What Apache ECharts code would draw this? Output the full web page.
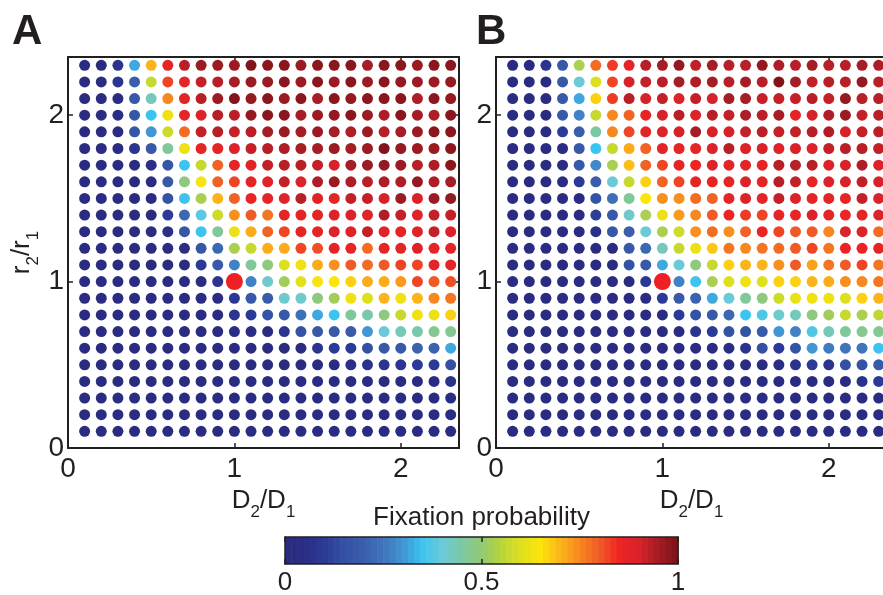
<!DOCTYPE html>
<html>
<head>
<meta charset="utf-8">
<script src="https://cdn.jsdelivr.net/npm/echarts@6/dist/echarts.min.js"></script>
<style>
html, body { margin: 0; padding: 0; background: #fff; }
#chart { width: 883px; height: 595px; }
</style>
</head>
<body>
<div id="chart"></div>
<script>
// grid positions (D2/D1 across, r2/r1 down the rows)
var dValues = [0.1, 0.2, 0.3, 0.4, 0.5, 0.6, 0.7, 0.8, 0.9, 1.0, 1.1, 1.2, 1.3, 1.4, 1.5, 1.6, 1.7, 1.8, 1.9, 2.0, 2.1, 2.2, 2.3];
var rValues = [2.3, 2.2, 2.1, 2.0, 1.9, 1.8, 1.7, 1.6, 1.5, 1.4, 1.3, 1.2, 1.1, 1.0, 0.9, 0.8, 0.7, 0.6, 0.5, 0.4, 0.3, 0.2, 0.1];
var neutralPoint = [1, 1];
var barTicks = [0, 0.5, 1];

// colour map of the fixation probability, 0 -> 1 in steps of 0.05
var probColors = ['#2a2a7e', '#2a2e85', '#2b3a96', '#3450a3', '#3a5eab', '#3f74bb', '#4196d3',
  '#3cc4f0', '#6ccad8', '#7cc8a4', '#92c974', '#b9d43a', '#dde01e', '#fde40a', '#fbb51a',
  '#f7871f', '#f05a26', '#ee2524', '#d8222a', '#a51d25', '#7a1218'];

// panel A, rows from r2/r1 = 2.3 (top) down to 0.1
var probA = [
  [0.02,0.02,0.08,0.32,0.70,0.87,0.93,0.96,0.96,0.96,0.99,0.98,0.98,0.96,0.98,0.98,0.98,0.95,0.98,0.98,0.96,0.98,0.98],
  [0.02,0.02,0.08,0.20,0.57,0.82,0.87,0.92,0.93,0.95,0.96,0.96,0.98,0.96,0.98,0.96,0.98,0.96,0.98,0.97,0.96,0.96,0.97],
  [0.02,0.02,0.02,0.18,0.43,0.75,0.87,0.93,0.96,0.99,0.97,0.98,0.96,0.98,0.95,0.98,0.97,0.98,0.98,0.98,0.94,0.98,0.97],
  [0.02,0.02,0.04,0.17,0.35,0.63,0.87,0.89,0.93,0.93,0.97,0.98,0.98,0.95,0.96,0.97,0.98,0.96,0.94,0.98,0.95,0.94,0.98],
  [0.02,0.02,0.02,0.17,0.30,0.58,0.78,0.92,0.93,0.92,0.93,0.95,0.96,0.95,0.96,0.95,0.94,0.96,0.93,0.95,0.96,0.98,0.98],
  [0.02,0.02,0.02,0.08,0.18,0.46,0.63,0.87,0.87,0.89,0.92,0.93,0.94,0.95,0.95,0.96,0.95,0.96,0.99,0.97,0.96,0.96,0.98],
  [0.02,0.02,0.02,0.02,0.05,0.17,0.35,0.57,0.79,0.87,0.88,0.92,0.93,0.93,0.92,0.90,0.95,0.96,0.97,0.96,0.93,0.94,0.98],
  [0.02,0.02,0.02,0.02,0.04,0.18,0.49,0.64,0.79,0.82,0.87,0.88,0.92,0.89,0.94,0.96,0.94,0.93,0.94,0.94,0.97,0.94,0.95],
  [0.02,0.02,0.02,0.02,0.02,0.16,0.35,0.53,0.70,0.79,0.86,0.87,0.88,0.93,0.88,0.87,0.92,0.92,0.90,0.96,0.90,0.96,0.97],
  [0.02,0.02,0.02,0.02,0.02,0.10,0.22,0.38,0.58,0.74,0.80,0.77,0.87,0.87,0.87,0.89,0.89,0.88,0.94,0.92,0.88,0.92,0.92],
  [0.02,0.02,0.02,0.02,0.02,0.06,0.17,0.35,0.46,0.62,0.71,0.79,0.82,0.87,0.87,0.89,0.88,0.92,0.88,0.87,0.88,0.92,0.89],
  [0.02,0.02,0.02,0.02,0.02,0.02,0.05,0.17,0.22,0.53,0.57,0.71,0.71,0.82,0.81,0.87,0.87,0.78,0.87,0.87,0.89,0.87,0.87],
  [0.02,0.02,0.02,0.02,0.02,0.02,0.02,0.10,0.18,0.27,0.46,0.49,0.60,0.63,0.71,0.74,0.80,0.78,0.80,0.82,0.82,0.87,0.87],
  [0.02,0.02,0.02,0.02,0.02,0.02,0.02,0.02,0.08,0.50,0.27,0.41,0.52,0.61,0.64,0.65,0.67,0.71,0.71,0.73,0.82,0.80,0.81],
  [0.02,0.02,0.02,0.02,0.02,0.02,0.02,0.02,0.02,0.09,0.18,0.19,0.41,0.41,0.49,0.52,0.63,0.60,0.70,0.63,0.70,0.75,0.77],
  [0.02,0.02,0.02,0.02,0.02,0.02,0.02,0.02,0.02,0.08,0.10,0.16,0.18,0.24,0.32,0.35,0.46,0.44,0.49,0.57,0.63,0.62,0.67],
  [0.02,0.02,0.02,0.02,0.02,0.02,0.02,0.02,0.02,0.04,0.04,0.03,0.08,0.16,0.18,0.18,0.19,0.30,0.40,0.43,0.44,0.47,0.47],
  [0.02,0.02,0.02,0.02,0.02,0.02,0.02,0.02,0.02,0.02,0.02,0.02,0.02,0.02,0.08,0.10,0.10,0.15,0.18,0.18,0.21,0.21,0.32],
  [0.02,0.02,0.02,0.02,0.02,0.02,0.02,0.02,0.02,0.02,0.02,0.02,0.02,0.02,0.02,0.02,0.06,0.07,0.08,0.08,0.10,0.10,0.15],
  [0.02,0.02,0.02,0.02,0.02,0.02,0.02,0.02,0.02,0.02,0.02,0.02,0.02,0.02,0.02,0.02,0.02,0.02,0.02,0.02,0.02,0.02,0.07],
  [0.02,0.02,0.02,0.02,0.02,0.02,0.02,0.02,0.02,0.02,0.02,0.02,0.02,0.02,0.02,0.02,0.02,0.02,0.02,0.02,0.02,0.02,0.02],
  [0.02,0.02,0.02,0.02,0.02,0.02,0.02,0.02,0.02,0.02,0.02,0.02,0.02,0.02,0.02,0.02,0.02,0.02,0.02,0.02,0.02,0.02,0.02],
  [0.02,0.02,0.02,0.02,0.02,0.02,0.02,0.02,0.02,0.02,0.02,0.02,0.02,0.02,0.02,0.02,0.02,0.02,0.02,0.02,0.02,0.02,0.02]
];

// panel B, same layout
var probB = [
  [0.02,0.02,0.08,0.18,0.53,0.78,0.83,0.87,0.93,0.95,0.97,0.92,0.95,0.93,0.93,0.97,0.94,0.93,0.95,0.93,0.93,0.95,0.94],
  [0.02,0.02,0.02,0.18,0.40,0.60,0.82,0.90,0.92,0.93,0.95,0.94,0.95,0.93,0.95,0.93,0.99,0.95,0.92,0.93,0.93,0.97,0.93],
  [0.02,0.02,0.02,0.18,0.32,0.67,0.83,0.93,0.90,0.92,0.89,0.92,0.90,0.95,0.95,0.92,0.92,0.92,0.93,0.92,0.97,0.93,0.93],
  [0.02,0.02,0.02,0.18,0.27,0.57,0.75,0.79,0.87,0.90,0.93,0.89,0.93,0.92,0.94,0.93,0.95,0.87,0.90,0.94,0.96,0.92,0.93],
  [0.02,0.02,0.02,0.10,0.20,0.45,0.75,0.82,0.87,0.89,0.90,0.95,0.90,0.90,0.92,0.93,0.92,0.92,0.93,0.94,0.90,0.92,0.93],
  [0.02,0.02,0.02,0.02,0.18,0.35,0.57,0.71,0.79,0.87,0.87,0.87,0.89,0.93,0.89,0.90,0.89,0.90,0.89,0.92,0.93,0.93,0.92],
  [0.02,0.02,0.02,0.02,0.18,0.28,0.53,0.69,0.79,0.82,0.87,0.85,0.89,0.87,0.87,0.87,0.93,0.93,0.93,0.89,0.90,0.94,0.89],
  [0.02,0.02,0.02,0.02,0.10,0.20,0.40,0.57,0.67,0.79,0.82,0.87,0.87,0.87,0.89,0.87,0.93,0.92,0.87,0.89,0.90,0.92,0.90],
  [0.02,0.02,0.02,0.02,0.02,0.16,0.24,0.46,0.65,0.74,0.74,0.78,0.79,0.87,0.89,0.87,0.92,0.89,0.87,0.87,0.87,0.92,0.89],
  [0.02,0.02,0.02,0.02,0.02,0.11,0.18,0.41,0.53,0.62,0.73,0.75,0.80,0.86,0.83,0.82,0.87,0.86,0.89,0.87,0.85,0.87,0.89],
  [0.02,0.02,0.02,0.02,0.02,0.06,0.17,0.20,0.40,0.53,0.58,0.74,0.78,0.74,0.79,0.86,0.82,0.80,0.80,0.75,0.89,0.89,0.78],
  [0.02,0.02,0.02,0.02,0.02,0.02,0.02,0.18,0.22,0.43,0.57,0.62,0.68,0.77,0.75,0.77,0.78,0.80,0.82,0.77,0.86,0.86,0.87],
  [0.02,0.02,0.02,0.02,0.02,0.02,0.02,0.16,0.18,0.32,0.40,0.49,0.57,0.67,0.70,0.70,0.74,0.80,0.72,0.77,0.80,0.82,0.77],
  [0.02,0.02,0.02,0.02,0.02,0.02,0.02,0.02,0.09,0.50,0.27,0.35,0.53,0.60,0.63,0.60,0.67,0.67,0.70,0.71,0.74,0.75,0.77],
  [0.02,0.02,0.02,0.02,0.02,0.02,0.02,0.02,0.02,0.10,0.18,0.21,0.32,0.40,0.46,0.49,0.58,0.62,0.63,0.63,0.60,0.67,0.70],
  [0.02,0.02,0.02,0.02,0.02,0.02,0.02,0.02,0.02,0.02,0.10,0.16,0.18,0.22,0.35,0.37,0.41,0.43,0.49,0.52,0.57,0.53,0.56],
  [0.02,0.02,0.02,0.02,0.02,0.02,0.02,0.02,0.02,0.02,0.02,0.08,0.10,0.16,0.16,0.18,0.30,0.27,0.37,0.43,0.46,0.47,0.47],
  [0.02,0.02,0.02,0.02,0.02,0.02,0.02,0.02,0.02,0.02,0.02,0.03,0.04,0.04,0.07,0.15,0.10,0.16,0.30,0.26,0.25,0.25,0.35],
  [0.02,0.02,0.02,0.02,0.02,0.02,0.02,0.02,0.02,0.02,0.02,0.02,0.02,0.02,0.02,0.02,0.04,0.07,0.10,0.08,0.15,0.16,0.18],
  [0.02,0.02,0.02,0.02,0.02,0.02,0.02,0.02,0.02,0.02,0.02,0.02,0.02,0.02,0.02,0.02,0.02,0.02,0.02,0.02,0.02,0.07,0.10],
  [0.02,0.02,0.02,0.02,0.02,0.02,0.02,0.02,0.02,0.02,0.02,0.02,0.02,0.02,0.02,0.02,0.02,0.02,0.02,0.02,0.02,0.02,0.02],
  [0.02,0.02,0.02,0.02,0.02,0.02,0.02,0.02,0.02,0.02,0.02,0.02,0.02,0.02,0.02,0.02,0.02,0.02,0.02,0.02,0.02,0.02,0.02],
  [0.02,0.02,0.02,0.02,0.02,0.02,0.02,0.02,0.02,0.02,0.02,0.02,0.02,0.02,0.02,0.02,0.02,0.02,0.02,0.02,0.02,0.02,0.02]
];

var font = '"Liberation Sans", Arial, sans-serif';
var ink = '#231f20';

function toPoints(rows) {
  var pts = [];
  rows.forEach(function (row, j) {
    row.forEach(function (v, i) {
      pts.push([dValues[i], rValues[j], v]);
    });
  });
  return pts;
}

// colour bar: 64 flat steps like the original
var barLevels = [];
for (var k = 0; k < 64; k++) {
  barLevels.push([k / 64, (k + 1) / 64, (k + 0.5) / 64]);
}

function intLabel(v) {
  return Math.abs(v - Math.round(v)) < 1e-6 ? String(Math.round(v)) : '';
}

var subRich = {
  a: { fontSize: 26, color: ink, fontFamily: font, padding: [0, 0, 7, 0], verticalAlign: 'bottom' },
  b: { fontSize: 17, color: ink, fontFamily: font, verticalAlign: 'bottom' }
};

function panelX(grid, pos) {
  var main = pos === 'bottom';
  return {
    type: 'value', gridIndex: grid, position: pos, min: 0, max: 2.35, interval: 1,
    axisLine: { show: true, onZero: false, lineStyle: { color: ink, width: 2 } },
    axisTick: { show: true, inside: true, length: 5, lineStyle: { color: ink, width: 1.5 } },
    axisLabel: { show: main, fontSize: 28, color: ink, fontFamily: font, margin: 7, formatter: intLabel },
    splitLine: { show: false },
    name: main ? '{a|D}{b|2}{a|/D}{b|1}' : '',
    nameLocation: 'middle', nameGap: 37,
    nameTextStyle: { rich: subRich }
  };
}

function panelY(grid, pos) {
  var main = pos === 'left';
  return {
    type: 'value', gridIndex: grid, position: pos, min: 0, max: 2.35, interval: 1,
    axisLine: { show: true, onZero: false, lineStyle: { color: ink, width: 2 } },
    axisTick: { show: true, inside: true, length: 5, lineStyle: { color: ink, width: 1.5 } },
    axisLabel: { show: main, fontSize: 28, color: ink, fontFamily: font, margin: 4, formatter: intLabel },
    splitLine: { show: false },
    name: main && grid === 0 ? '{a|r}{b|2}{a|/r}{b|1}' : '',
    nameLocation: 'middle', nameRotate: 90, nameGap: 26,
    nameTextStyle: { rich: subRich }
  };
}

function barX(pos) {
  var main = pos === 'bottom';
  return {
    type: 'value', gridIndex: 2, position: pos, min: barTicks[0], max: barTicks[2], interval: barTicks[1],
    z: 5,
    axisLine: { show: true, onZero: false, lineStyle: { color: ink, width: 1.5 } },
    axisTick: { show: true, inside: true, length: 5, lineStyle: { color: ink, width: 1.5 } },
    axisLabel: { show: main, fontSize: 26, color: ink, fontFamily: font, margin: 6 },
    splitLine: { show: false },
    name: main ? '' : 'Fixation probability',
    nameLocation: 'middle', nameGap: 6,
    nameTextStyle: { fontSize: 26, color: ink, fontFamily: font }
  };
}

function barY(pos) {
  return {
    type: 'value', gridIndex: 2, position: pos, min: 0, max: 1, z: 5,
    axisLine: { show: true, onZero: false, lineStyle: { color: ink, width: 1.5 } },
    axisTick: { show: false }, axisLabel: { show: false }, splitLine: { show: false }
  };
}

var chart = echarts.init(document.getElementById('chart'), null, { renderer: 'canvas' });

chart.setOption({
  backgroundColor: '#fff',
  animation: false,
  title: [
    { text: 'A', left: 12, top: 11, padding: 0, textStyle: { fontSize: 42, fontWeight: 'bold', color: ink, fontFamily: font } },
    { text: 'B', left: 476, top: 11, padding: 0, textStyle: { fontSize: 42, fontWeight: 'bold', color: ink, fontFamily: font } }
  ],
  grid: [
    { left: 68, top: 57, width: 391, height: 391, outerBoundsMode: 'none' },
    { left: 496, top: 57, width: 391, height: 391, outerBoundsMode: 'none' },
    { left: 285, top: 537, width: 393, height: 27, outerBoundsMode: 'none' }
  ],
  xAxis: [panelX(0, 'bottom'), panelX(0, 'top'), panelX(1, 'bottom'), panelX(1, 'top'), barX('bottom'), barX('top')],
  yAxis: [panelY(0, 'left'), panelY(0, 'right'), panelY(1, 'left'), panelY(1, 'right'), barY('left'), barY('right')],
  visualMap: {
    type: 'continuous', show: false, min: 0, max: 1, dimension: 2,
    seriesIndex: [0, 2, 4],
    inRange: { color: probColors }
  },
  series: [
    {
      type: 'scatter', xAxisIndex: 0, yAxisIndex: 0, data: toPoints(probA),
      symbolSize: 11, silent: true, itemStyle: { opacity: 1 }
    },
    {
      type: 'scatter', xAxisIndex: 0, yAxisIndex: 0, data: [neutralPoint],
      symbolSize: 17, silent: true, z: 3, itemStyle: { color: '#ee2024', opacity: 1 }
    },
    {
      type: 'scatter', xAxisIndex: 2, yAxisIndex: 2, data: toPoints(probB),
      symbolSize: 11, silent: true, itemStyle: { opacity: 1 }
    },
    {
      type: 'scatter', xAxisIndex: 2, yAxisIndex: 2, data: [neutralPoint],
      symbolSize: 17, silent: true, z: 3, itemStyle: { color: '#ee2024', opacity: 1 }
    },
    {
      type: 'custom', xAxisIndex: 4, yAxisIndex: 4, data: barLevels, silent: true,
      encode: { x: [0, 1] },
      renderItem: function (params, api) {
        var p0 = api.coord([api.value(0), 1]);
        var p1 = api.coord([api.value(1), 0]);
        return {
          type: 'rect',
          shape: { x: p0[0], y: p0[1], width: p1[0] - p0[0] + 0.6, height: p1[1] - p0[1] },
          style: { fill: api.visual('color') }
        };
      }
    }
  ]
});
</script>
</body>
</html>
